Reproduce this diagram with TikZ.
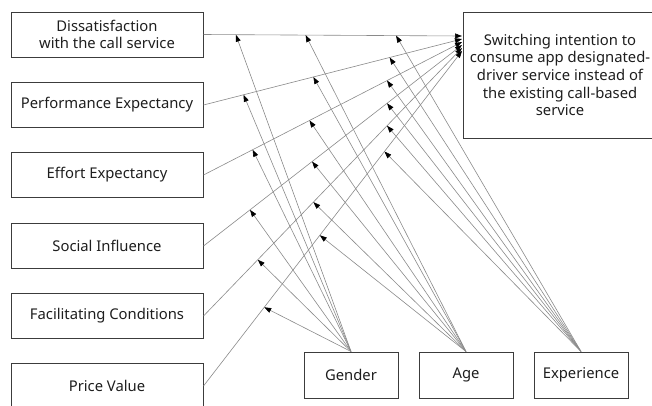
\documentclass[tikz,border=0pt]{standalone}
\usepackage{fontspec}
\setmainfont{Noto Sans}
\usetikzlibrary{arrows.meta}
\definecolor{boxc}{HTML}{3C3C3C}
\definecolor{linec}{HTML}{8A8A8A}
\definecolor{txtc}{HTML}{1E1E1E}
\begin{document}
\begin{tikzpicture}[x=1pt,y=-1pt,
  box/.style={draw=boxc,line width=1pt,minimum width=192pt,minimum height=45pt,
    inner sep=0pt,align=center,text=txtc,font=\fontsize{14.8}{17.6}\selectfont},
  modbox/.style={box,minimum width=94pt,minimum height=46pt},
  conn/.style={draw=linec,line width=0.6pt,
    -{Triangle[length=7pt,width=5pt,color=black]}}]
\useasboundingbox (0,0) rectangle (652,405);
\clip (0,0) rectangle (652,405);
% predictors
\node[box] (dis) at (107,34.5) {Dissatisfaction\\with the call service};
\node[box] (pe) at (107,105) {Performance Expectancy};
\node[box] (ee) at (107,175) {Effort Expectancy};
\node[box] (si) at (107,246) {Social Influence};
\node[box] (fc) at (107,316) {Facilitating Conditions};
\node[box] (pv) at (107,386) {Price Value};
% target
\node[box,minimum width=194pt,minimum height=126pt] (tg) at (560,75)
  {Switching intention to\\consume app designated-\\driver service instead of\\the existing call-based\\service};
% moderators
\node[modbox] (gen) at (351,375) {Gender};
\node[modbox] (age) at (466,375) {Age};
\node[modbox] (exp) at (581,375) {Experience};
% end points at target
\coordinate (e1) at (462,36);
\coordinate (e2) at (462,39);
\coordinate (e3) at (462,42);
\coordinate (e4) at (462,45);
\coordinate (e5) at (462,48);
\coordinate (e6) at (462,51);
% predictor paths
\draw[conn] (dis.east) -- (e1)
  coordinate[pos=0.125] (g1) coordinate[pos=0.395] (a1) coordinate[pos=0.745] (x1);
\draw[conn] (pe.east) -- (e2)
  coordinate[pos=0.155] (g2) coordinate[pos=0.425] (a2) coordinate[pos=0.72] (x2);
\draw[conn] (ee.east) -- (e3)
  coordinate[pos=0.19] (g3) coordinate[pos=0.41] (a3) coordinate[pos=0.71] (x3);
\draw[conn] (si.east) -- (e4)
  coordinate[pos=0.18] (g4) coordinate[pos=0.42] (a4) coordinate[pos=0.71] (x4);
\draw[conn] (fc.east) -- (e5)
  coordinate[pos=0.21] (g5) coordinate[pos=0.425] (a5) coordinate[pos=0.71] (x5);
\draw[conn] (pv.east) -- (e6)
  coordinate[pos=0.235] (g6) coordinate[pos=0.45] (a6) coordinate[pos=0.70] (x6);
% moderator paths
\foreach \i in {1,...,6}{
  \draw[conn] (gen.north) -- (g\i);
  \draw[conn] (age.north) -- (a\i);
  \draw[conn] (exp.north) -- (x\i);
}
\end{tikzpicture}
\end{document}
